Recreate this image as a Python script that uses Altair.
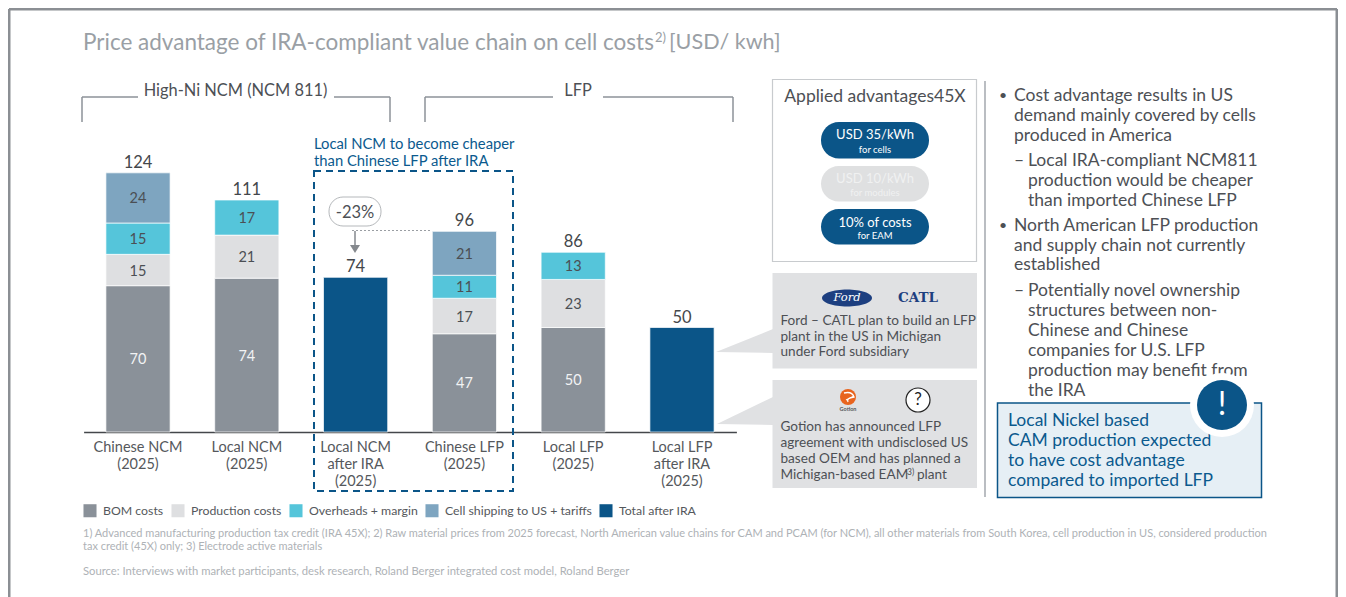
import altair as alt
import pandas as pd

# ---------- data ----------
categories = ["Chinese NCM|(2025)", "Local NCM|(2025)", "Local NCM|after IRA|(2025)",
              "Chinese LFP|(2025)", "Local LFP|(2025)", "Local LFP|after IRA|(2025)"]
series_names = ["BOM costs", "Production costs", "Overheads + margin",
                "Cell shipping to US + tariffs", "Total after IRA"]
series_colors = ["#8a9199", "#dedfe1", "#55c5da", "#7ea5c0", "#0b5588"]
bom_costs = [70, 73.6, 0, 47, 50, 0]
production_costs = [15, 20.6, 0, 17, 23, 0]
overheads_margin = [15, 16.8, 0, 11, 13, 0]
cell_shipping = [24, 0, 0, 21, 0, 0]
total_after_ira = [0, 0, 74, 0, 0, 50]
series_values = [bom_costs, production_costs, overheads_margin, cell_shipping, total_after_ira]

rows, totals = [], []
for i, cat in enumerate(categories):
    base = 0
    for j, name in enumerate(series_names):
        v = series_values[j][i]
        if v:
            rows.append(dict(cat=cat, series=name, y0=base, y1=base + v, mid=base + v / 2, value=v,
                             order=j, light=name in ("BOM costs",)))
            base += v
    totals.append(dict(cat=cat, total=base))
seg = pd.DataFrame(rows)
tot = pd.DataFrame(totals)

# ---------- style / layout ----------
FONT = "Lato"
DARK = "#4d5055"
BLUE = "#0b5a8e"
NAVY = "#0b5588"
GREY = "#8c9299"
PANEL = "#e0e1e3"
one = pd.DataFrame({"a": [0]})
W, H = 1330, 424
PX = 424 / 2.09


def T(s, x, y, size=14.0, color=DARK, align="left", **kw):
    return alt.Chart(one).mark_text(text=s, align=align, baseline="middle", fontSize=size, color=color,
                                    font=kw.pop("font", FONT), **kw).encode(
        x=alt.value(x - 8), y=alt.value(y - 7))


def R(x1, y1, x2, y2, color=GREY, w=1.5, **kw):
    return alt.Chart(one).mark_rule(color=color, strokeWidth=w, **kw).encode(
        x=alt.value(x1 - 8), y=alt.value(y1 - 8), x2=alt.value(x2 - 8), y2=alt.value(y2 - 8))


def B(x1, y1, x2, y2, fill=None, stroke=None, w=1.0, radius=0, **kw):
    args = dict(cornerRadius=radius, **kw)
    args["fill"] = fill if fill else "transparent"
    if stroke:
        args.update(stroke=stroke, strokeWidth=w)
    return alt.Chart(one).mark_rect(**args).encode(
        x=alt.value(x1 - 8), y=alt.value(y1 - 8), x2=alt.value(x2 - 8), y2=alt.value(y2 - 8))


def P(path, fill=None, stroke=None, w=1.0):
    args = dict(shape=path, size=4, opacity=1)
    if fill:
        args.update(filled=True, fill=fill)
    else:
        args.update(filled=False, fill="transparent")
    args.update(stroke=stroke if stroke else "transparent", strokeWidth=w if stroke else 0)
    return alt.Chart(one).mark_point(**args).encode(x=alt.value(0), y=alt.value(0))


def poly(*pts):
    return "M " + " L ".join(f"{x-8} {y-8}" for x, y in pts) + " Z"


def dot(cx, cy, d, fill=None, stroke=None, w=1.0):
    args = dict(shape="circle", size=d * d, opacity=1)
    if fill:
        args.update(filled=True, fill=fill)
    else:
        args.update(filled=False, fill="transparent")
    if stroke:
        args.update(stroke=stroke, strokeWidth=w)
    else:
        args.update(strokeWidth=0)
    return alt.Chart(one).mark_point(**args).encode(x=alt.value(cx - 8), y=alt.value(cy - 8))


x_enc = alt.X("cat:N", sort=categories, title=None,
              scale=alt.Scale(range=[75.6, 728.4], paddingInner=0.41, paddingOuter=0.205),
              axis=alt.Axis(labelExpr="split(datum.label, '|')", labelAngle=0, ticks=False, grid=False,
                            domainColor="#44474b", domainWidth=1.5, labelFont=FONT, labelFontSize=14.5,
                            labelColor="#55585c", labelPadding=8.5, labelLineHeight=17, labelLimit=0))
y_scale = alt.Scale(domain=[0, PX], nice=False)

bars = alt.Chart(seg).mark_bar(stroke="#ffffff", strokeWidth=0.7).encode(
    x=x_enc,
    y=alt.Y("y0:Q", scale=y_scale, axis=None),
    y2="y1:Q",
    color=alt.Color("series:N", scale=alt.Scale(domain=series_names, range=series_colors),
                    legend=alt.Legend(orient="none", legendX=75, legendY=495.5, direction="horizontal",
                                      title=None, symbolType="square", symbolSize=170, symbolStrokeWidth=0,
                                      labelFont=FONT, labelFontSize=12.3, labelColor="#55585c",
                                      columnPadding=7, labelOffset=6, labelLimit=0, columns=5)),
    order="order:Q",
)
inner = alt.Chart(seg[seg.series != "Total after IRA"]).mark_text(font=FONT, fontSize=14.5, baseline="middle", dy=1.5).encode(
    x=alt.X("cat:N", sort=categories),
    y=alt.Y("mid:Q", scale=y_scale, axis=None),
    text=alt.Text("value:Q", format=".0f"),
    color=alt.condition("datum.light", alt.value("#f2f3f4"), alt.value("#4b4f54")),
)
top = alt.Chart(tot).mark_text(font=FONT, fontSize=16.5, baseline="bottom", dy=-2, color="#44474b").encode(
    x=alt.X("cat:N", sort=categories),
    y=alt.Y("total:Q", scale=y_scale, axis=None),
    text=alt.Text("total:Q", format=".0f"),
)

BS = 17.5  # bullet text size
layers = [
    # frame
    R(9, 9, 1337, 9, "#8b8f94", 3), R(9, 9, 9, 597, "#8b8f94", 3), R(1337, 9, 1337, 597, "#8b8f94", 3),
    # title
    T("Price advantage of IRA-compliant value chain on cell costs", 83, 42, 22.5, "#9a9fa5"),
    T("2)", 655, 37, 13, "#9a9fa5"), T("[USD/ kwh]", 669, 42, 21.6, "#9a9fa5"),
    # brackets
    R(82, 97, 138, 97), R(82, 97, 82, 122), R(334, 97, 390, 97), R(390, 97, 390, 122),
    R(425, 97, 553, 97), R(425, 97, 425, 122), R(603, 97, 733, 97), R(733, 97, 733, 122),
    T("High-Ni NCM (NCM 811)", 235.5, 90, 16.4, DARK, "center"), T("LFP", 578, 90, 16.4, DARK, "center"),
    # highlight
    T("Local NCM to become cheaper", 314, 144, 14.8, BLUE), T("than Chinese LFP after IRA", 314, 161, 14.8, BLUE),
    B(314, 171, 513, 491, stroke=NAVY, w=2, strokeDash=[7, 5]),
    bars, inner, top,
    # -23 %
    R(352, 230.5, 432, 230.5, "#9a9ea3", 1, strokeDash=[2, 2]), R(355, 231, 355, 246, "#85898e", 1.5),
    P(poly((350, 245), (360, 245), (355, 253)), fill="#85898e"),
    B(329, 197, 381, 226, fill="#ffffff", stroke="#b5b8bb", w=1, radius=14),
    T("-23%", 355, 212, 16.5, DARK, "center"),
    # advantages box
    B(772.5, 79.5, 976.5, 261.5, fill="#ffffff", stroke="#c8cbce", w=1.2),
    T("Applied advantages45X", 875, 96, 17.5, DARK, "center"),
    B(821, 122, 929, 158.5, fill=NAVY, radius=18), B(821, 166, 929, 201.5, fill="#dfe0e1", radius=18),
    B(821, 209, 929, 244.5, fill=NAVY, radius=18),
    T("USD 35/kWh", 875, 134, 13, "#ffffff", "center"), T("for cells", 875, 149, 9.5, "#ffffff", "center"),
    T("USD 10/kWh", 875, 178, 13, "#f0f1f1", "center"), T("for modules", 875, 192, 9.5, "#f0f1f1", "center"),
    T("10% of costs", 875, 222, 13, "#ffffff", "center"), T("for EAM", 875, 235, 9.5, "#ffffff", "center"),
    # call-out panels
    P(poly((716, 352), (773, 329), (773, 353)), fill=PANEL), P(poly((717, 424), (773, 397), (773, 425)), fill=PANEL),
    B(772.5, 273, 977, 368.5, fill=PANEL), B(772.5, 380, 977, 488, fill=PANEL),
    P("M 814 290 A 25 8.5 0 1 1 864 290 A 25 8.5 0 1 1 814 290 Z", fill="#1d3f80"),
    T("Ford", 847, 297, 11.5, "#ffffff", "center", font="DejaVu Serif", fontStyle="italic"),
    T("CATL", 918, 297, 13.5, "#1d3f80", "center", font="DejaVu Serif", fontWeight="bold"),
    T("Ford – CATL plan to build an LFP", 780.5, 320, 13.6), T("plant in the US in Michigan", 780.5, 335.5, 13.6),
    T("under Ford subsidiary", 780.5, 351, 13.6),
    dot(848, 397, 16, fill="#e8641f"),
    P("M 836 385 Q 844 383 846 389 Q 838 390 840 394 M 838 392 L 846 388", stroke="#ffffff", w=1.3),
    T("Gotion", 848, 408, 5.5, "#55585c", "center", fontWeight="bold"),
    dot(918, 400, 24, fill="#ffffff", stroke="#222222", w=1.2), T("?", 918, 399, 17, "#222222", "center"),
    T("Gotion has announced LFP", 780.5, 426, 13.6), T("agreement with undisclosed US", 780.5, 442, 13.6),
    T("based OEM and has planned a", 780.5, 458, 13.6), T("Michigan-based EAM", 780.5, 474, 13.6),
    T("3)", 907, 471, 8.5), T("plant", 917, 474, 13.6),
    # divider
    R(985, 81, 985, 497, GREY, 1.2),
]

bullets = [
    (1014, 95, "Cost advantage results in US"), (1014, 115, "demand mainly covered by cells"),
    (1014, 135, "produced in America"), (1028, 160, "Local IRA-compliant NCM811"),
    (1028, 180, "production would be cheaper"), (1028, 200, "than imported Chinese LFP"),
    (1014, 225, "North American LFP production"), (1014, 245, "and supply chain not currently"),
    (1014, 264, "established"), (1028, 290, "Potentially novel ownership"),
    (1028, 310, "structures between non-"), (1028, 330, "Chinese and Chinese"),
    (1028, 350, "companies for U.S. LFP"), (1028, 370, "production may benefit from"), (1028, 390, "the IRA"),
]
layers += [T(s, x, y, BS) for x, y, s in bullets]
layers += [T("•", 999, 95, 14), T("•", 999, 225, 14), T("–", 1014, 160, BS), T("–", 1014, 290, BS)]
layers += [
    B(997.5, 403, 1261.5, 497.5, fill="#e6eff5", stroke=NAVY, w=1.5),
    T("Local Nickel based", 1008, 420, BS, BLUE), T("CAM production expected", 1008, 440, BS, BLUE),
    T("to have cost advantage", 1008, 460, BS, BLUE), T("compared to imported LFP", 1008, 480, BS, BLUE),
    dot(1222, 405, 64, fill="#ffffff"), dot(1222, 405, 50, fill=NAVY),
    T("!", 1222, 404, 32, "#ffffff", "center"),
    # footnotes
    T("1) Advanced manufacturing production tax credit (IRA 45X); 2) Raw material prices from 2025 forecast, North American value chains for CAM and PCAM (for NCM), all other materials from South Korea, cell production in US, considered production", 83, 533, 11, "#aeb2b6"),
    T("tax credit (45X) only; 3) Electrode active materials", 83, 546, 11, "#aeb2b6"),
    T("Source: Interviews with market participants, desk research, Roland Berger integrated cost model, Roland Berger", 83, 571, 11.25, "#aeb2b6"),
]

chart = alt.layer(*layers).properties(
    width=W, height=H, padding={"left": 0, "top": 0, "right": 0, "bottom": 165},
    autosize=alt.AutoSizeParams(type="none"), background="#ffffff",
).configure_view(stroke=None)

chart.save("out.html", embed_options={"renderer": "svg", "actions": False})
